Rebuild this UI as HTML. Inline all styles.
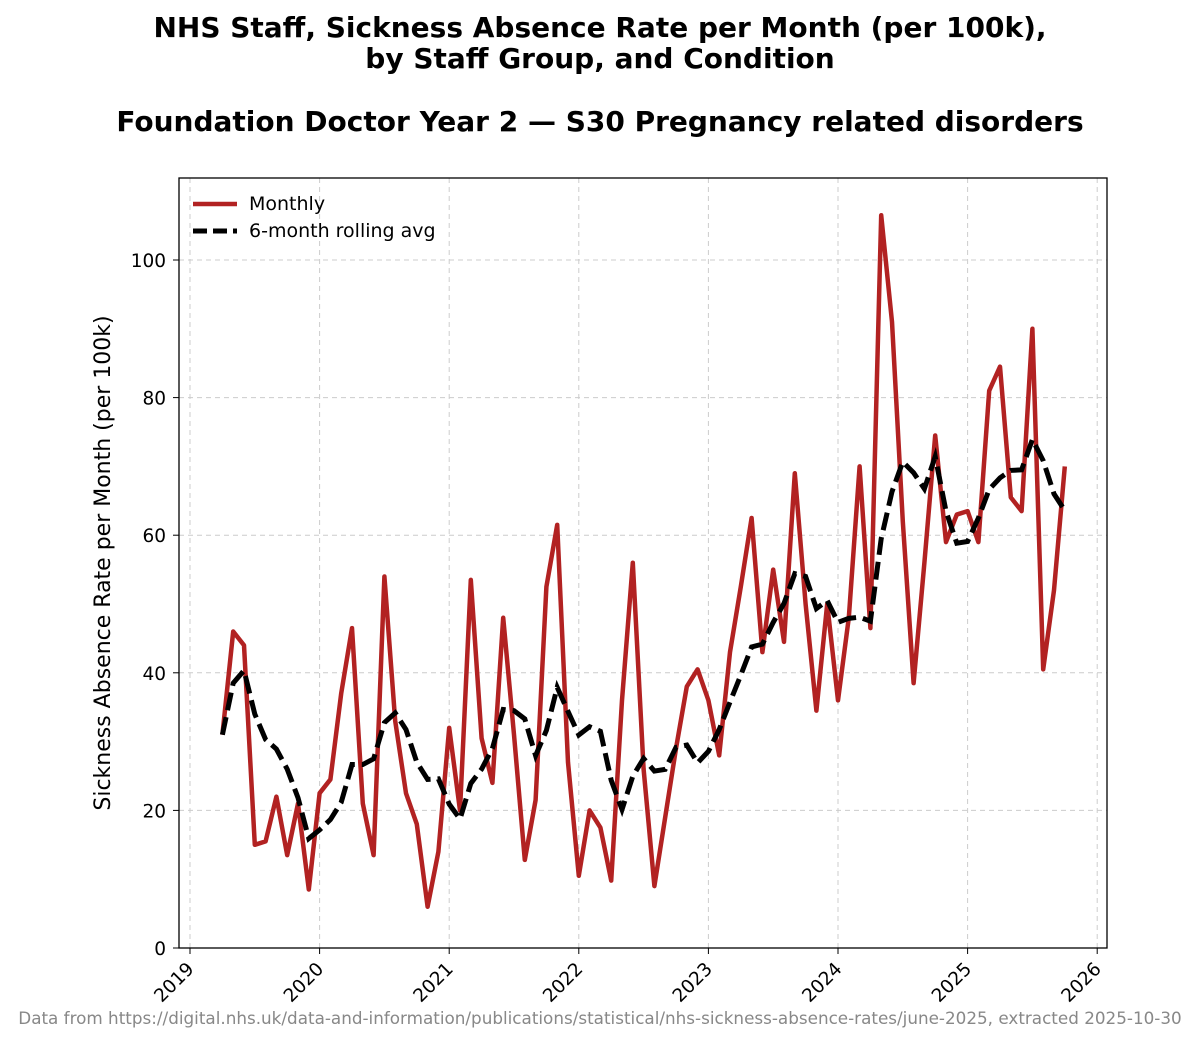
<!DOCTYPE html>
<html><head><meta charset="utf-8"><style>
body{margin:0;background:#fff;}
svg text{font-family:"DejaVu Sans","Liberation Sans",sans-serif;}
</style></head><body>
<svg id="chart" width="1200" height="1043" xmlns="http://www.w3.org/2000/svg">
<rect width="1200" height="1043" fill="#fff"/>
<text x="600" y="37" text-anchor="middle" font-size="28" font-weight="bold">NHS Staff, Sickness Absence Rate per Month (per 100k),</text>
<text x="600" y="68" text-anchor="middle" font-size="28" font-weight="bold">by Staff Group, and Condition</text>
<text x="600" y="131" text-anchor="middle" font-size="28" font-weight="bold">Foundation Doctor Year 2 — S30 Pregnancy related disorders</text>
<g id="grid"></g>
<g id="series"></g>
<rect x="179" y="178" width="928" height="770" fill="none" stroke="#000" stroke-width="1.3"/>
<g id="axes"></g>
<text transform="translate(110,563) rotate(-90)" text-anchor="middle" font-size="22">Sickness Absence Rate per Month (per 100k)</text>
<g>
<line x1="193" y1="204" x2="237" y2="204" stroke="#b22222" stroke-width="4.5"/>
<text x="249" y="210" font-size="19">Monthly</text>
<line x1="193" y1="231" x2="237" y2="231" stroke="#000" stroke-width="5" stroke-dasharray="14,6"/>
<text x="249" y="237" font-size="19">6-month rolling avg</text>
</g>
<text x="600" y="1024" text-anchor="middle" font-size="16.8" fill="#888">Data from https://digital.nhs.uk/data-and-information/publications/statistical/nhs-sickness-absence-rates/june-2025, extracted 2025-10-30</text>
</svg>
<script>
const startYear = 2019, startMonth = 3; // April 2019 (0-based month)
const monthly = [31,46,44,15,15.5,22,13.5,21,8.5,22.5,24.5,37,46.5,21,13.5,54,33,22.5,18,6,14,32,20,53.5,30.5,24,48,31,12.8,21.5,52.5,61.5,27,10.5,20,17.5,9.8,36,56,26,9,19,29,38,40.5,36,28,43,52.5,62.5,43,55,44.5,69,50,34.5,50,36,48,70,46.5,106.5,91,62,38.5,56,74.5,59,63,63.5,59,81,84.5,65.5,63.5,90,40.5,52,70];
const yTicks = [0,20,40,60,80,100];
const xTickYears = [2019,2020,2021,2022,2023,2024,2025,2026];
const NS="http://www.w3.org/2000/svg";
const X0=190, PXY=129.6, Y0=948, PXV=6.88;
function xs(t){return X0+(t-2019)*PXY;}
function ys(v){return Y0-v*PXV;}
function mk(tag,attrs,parent){const e=document.createElementNS(NS,tag);for(const k in attrs)e.setAttribute(k,attrs[k]);parent.appendChild(e);return e;}
const grid=document.getElementById('grid'), axes=document.getElementById('axes'), series=document.getElementById('series');
yTicks.forEach(v=>{
 const l=mk('line',{x1:179,x2:1107,y1:ys(v),y2:ys(v),stroke:'#ccc','stroke-dasharray':'5,4','stroke-width':1},grid);
 
 
 mk('line',{x1:173,x2:179,y1:ys(v),y2:ys(v),stroke:'#000'},axes);
 const t=mk('text',{x:166,y:ys(v)+7,'text-anchor':'end','font-size':18.5},axes);
 t.textContent=v;
 
 
});
xTickYears.forEach(y=>{
 const x=xs(y);
 const l=mk('line',{x1:x,x2:x,y1:178,y2:948,stroke:'#ccc','stroke-dasharray':'5,4','stroke-width':1},grid);
 
 
 mk('line',{x1:x,x2:x,y1:948,y2:954,stroke:'#000'},axes);
 const t=mk('text',{x:x+5,y:970,'text-anchor':'end','font-size':18.5,transform:`rotate(-45 ${x+5} 970)`},axes);
 t.textContent=y;
 
 
});
function tOf(i){return startYear+(startMonth+i)/12;}
const rolling=monthly.map((v,i)=>{const s=monthly.slice(Math.max(0,i-5),i+1);return s.reduce((a,b)=>a+b,0)/s.length;});
const p1=mk('polyline',{points:monthly.map((v,i)=>xs(tOf(i))+','+ys(v)).join(' '),fill:'none',stroke:'#b22222','stroke-width':4.5,'stroke-linejoin':'round'},series);


const p2=mk('polyline',{points:rolling.map((v,i)=>xs(tOf(i))+','+ys(v)).join(' '),fill:'none',stroke:'#000','stroke-width':5,'stroke-dasharray':'18,7'},series);


</script>
</body></html>
